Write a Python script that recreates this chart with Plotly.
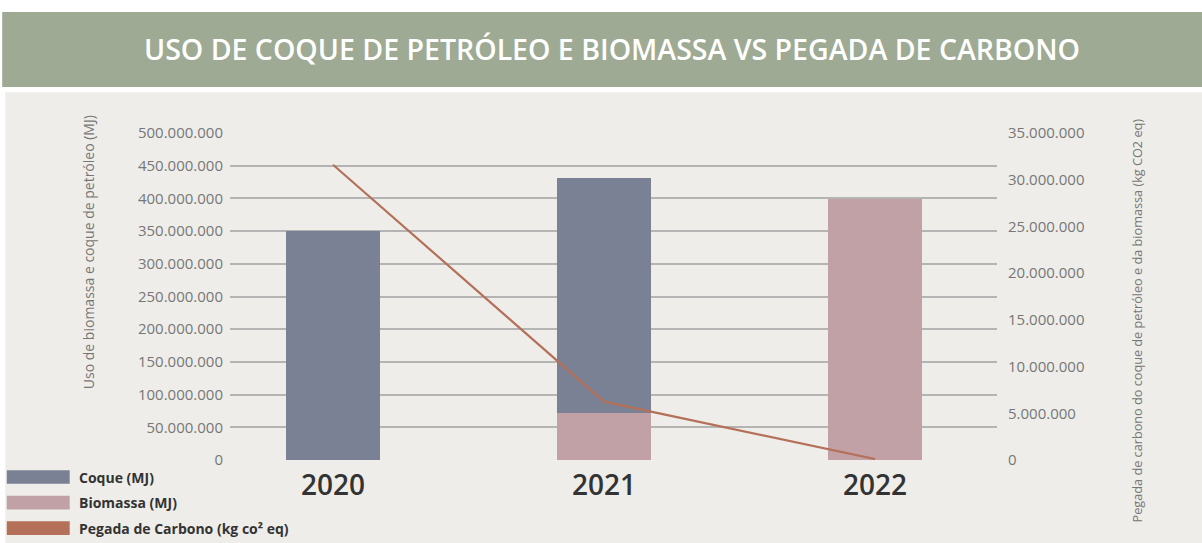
import plotly.graph_objects as go

# data
anos = ["2020", "2021", "2022"]
coque_mj = [350_000_000, 359_000_000, 0]
biomassa_mj = [0, 72_000_000, 399_000_000]
pegada_kg = [31_600_000, 6_250_000, 100_000]

left_ticks = list(range(0, 500_000_001, 50_000_000))
right_ticks = list(range(0, 35_000_001, 5_000_000))


def fmt(v):
    return f"{v:,}".replace(",", ".")


COQUE = "#7a8194"
BIOMASSA = "#c1a1a5"
PEGADA = "#b5705a"
HEADER = "#9eaa94"
PANEL = "#eeede9"

fig = go.Figure()

fig.add_trace(go.Bar(
    x=anos, y=biomassa_mj, name="Biomassa (MJ)",
    marker=dict(color=BIOMASSA, line=dict(width=0)), width=0.35,
))
fig.add_trace(go.Bar(
    x=anos, y=coque_mj, name="Coque (MJ)",
    marker=dict(color=COQUE, line=dict(width=0)), width=0.35,
))
fig.add_trace(go.Scatter(
    x=anos, y=pegada_kg, name="Pegada de Carbono", yaxis="y2",
    mode="lines", line=dict(color=PEGADA, width=2.2),
))

shapes = [
    # header band
    dict(type="rect", xref="paper", yref="paper", x0=-0.297, x1=1.3, y0=1.141, y1=1.370,
         fillcolor=HEADER, line=dict(width=0), layer="below"),
    # panel
    dict(type="rect", xref="paper", yref="paper", x0=-0.293, x1=1.3, y0=-0.3, y1=1.125,
         fillcolor=PANEL, line=dict(width=0), layer="below"),
]

annotations = [
    dict(text="USO DE COQUE DE PETRÓLEO E BIOMASSA VS PEGADA DE CARBONO",
         xref="paper", yref="paper", x=0.498, y=1.258, showarrow=False,
         font=dict(family="Open Sans", size=28.5, color="white", weight=600),
         xanchor="center", yanchor="middle"),
    dict(text="Uso de biomassa e coque de petróleo (MJ)", textangle=-90,
         xref="paper", yref="paper", x=-0.185, y=0.636, showarrow=False,
         font=dict(family="Open Sans", size=14, color="#777"),
         xanchor="center", yanchor="middle"),
    dict(text="Pegada de carbono do coque de petróleo e da biomassa (kg CO2 eq)", textangle=-90,
         xref="paper", yref="paper", x=1.183, y=0.428, showarrow=False,
         font=dict(family="Open Sans", size=12.7, color="#777"),
         xanchor="center", yanchor="middle"),
]

legend_items = [("Coque (MJ)", COQUE), ("Biomassa (MJ)", BIOMASSA),
                ("Pegada de Carbono (kg co² eq)", PEGADA)]
for i, (label, color) in enumerate(legend_items):
    yc = -0.052 - i * 0.078
    shapes.append(dict(type="rect", xref="paper", yref="paper",
                       x0=-0.291, x1=-0.209, y0=yc - 0.021, y1=yc + 0.021,
                       fillcolor=color, line=dict(width=0)))
    annotations.append(dict(text=f"<b>{label}</b>", xref="paper", yref="paper",
                            x=-0.2, y=yc, showarrow=False, xanchor="left", yanchor="middle",
                            font=dict(family="Open Sans", size=14, color="#333")))

fig.update_layout(
    width=1202, height=543,
    margin=dict(l=230, r=205, t=133, b=83),
    paper_bgcolor="white", plot_bgcolor="rgba(0,0,0,0)",
    barmode="stack", showlegend=False,
    shapes=shapes, annotations=annotations,
    xaxis=dict(
        range=[-0.38, 2.45], showgrid=False, zeroline=False, showline=False,
        tickfont=dict(family="Open Sans", size=28, color="#333", weight=600),
        ticks="", ticklabelstandoff=6,
    ),
    yaxis=dict(
        range=[0, 500_000_000], tickvals=left_ticks, ticktext=[fmt(v) for v in left_ticks],
        showgrid=True, gridcolor="#b4b4b4", gridwidth=1.5, zeroline=False,
        tickfont=dict(family="Open Sans", size=15, color="#777"),
        ticklabelstandoff=6,
    ),
    yaxis2=dict(
        range=[0, 35_000_000], tickvals=right_ticks, ticktext=[fmt(v) for v in right_ticks],
        overlaying="y", side="right", showgrid=False, zeroline=False,
        tickfont=dict(family="Open Sans", size=15, color="#777"),
        ticklabelstandoff=10,
    ),
)

fig.write_html("out.html", config={"displayModeBar": False},
               post_script="document.body.style.margin='0';")
